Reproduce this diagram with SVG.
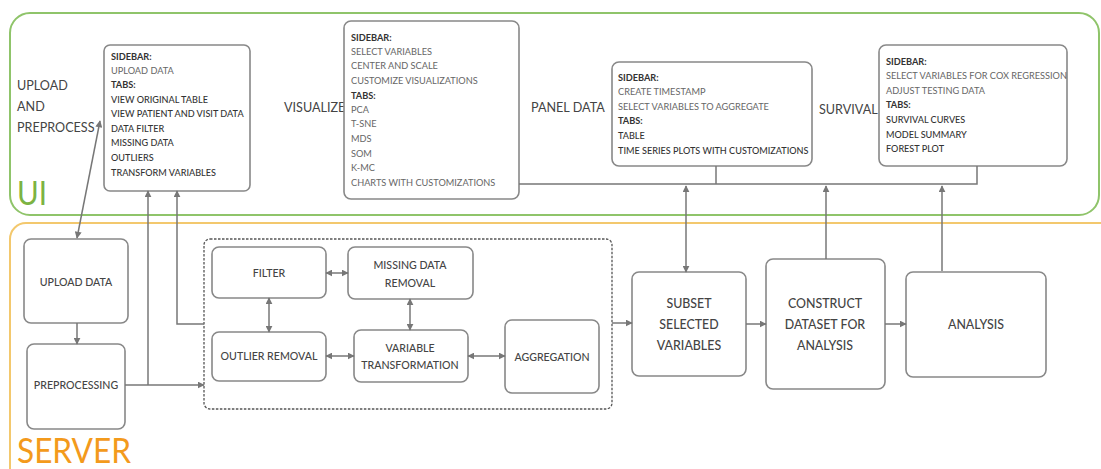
<svg xmlns="http://www.w3.org/2000/svg" width="1101" height="469" viewBox="0 0 1101 469">
<defs>
<marker id="ah" viewBox="0 0 10 10" refX="9" refY="5" markerWidth="7" markerHeight="7" markerUnits="userSpaceOnUse" orient="auto-start-reverse">
<path d="M0,0 L10,5 L0,10 z" fill="#777"/>
</marker>
<style>
text{font-family:Lato,"Liberation Sans",sans-serif;fill:#444}
.panel{fill:none;stroke-width:2}
.box{fill:#fff;stroke:#888;stroke-width:1.6}
.con{fill:none;stroke:#777;stroke-width:1.5}
.ar{marker-end:url(#ah)}
.bi{marker-start:url(#ah);marker-end:url(#ah)}
.hd{font-size:9.2px;font-weight:bold;fill:#333}
.it{font-size:9.2px;fill:#666}
.tb{font-size:9.1px;fill:#333;font-weight:500}
.sec{font-size:12.6px;fill:#444}
.bl{font-size:10.6px;fill:#444;font-weight:500;text-anchor:middle}
.bb{font-size:12.4px;fill:#444;font-weight:500;text-anchor:middle}
</style>
</defs>
<rect width="1101" height="469" fill="#fff"/>
<g id="ui-panel">
<rect class="panel" x="10" y="13" width="1089" height="202" rx="20" stroke="#8fc46a"/>
<text x="17" y="205" textLength="30" lengthAdjust="spacingAndGlyphs" style="font-size:32px;fill:#7cb342">UI</text>
</g>
<g id="server-panel">
<rect class="panel" x="10" y="223" width="1110" height="270" rx="16" stroke="#f3c86d"/>
<text x="17" y="463" textLength="114" lengthAdjust="spacingAndGlyphs" style="font-size:35px;fill:#f39a1c">SERVER</text>
</g>
<g id="labels">
<text class="sec" x="17" y="90">UPLOAD</text>
<text class="sec" x="17" y="111">AND</text>
<text class="sec" x="17" y="132">PREPROCESS</text>
<text class="sec" x="284" y="112">VISUALIZE</text>
<text class="sec" x="531" y="112">PANEL DATA</text>
<text class="sec" x="819" y="114">SURVIVAL</text>
</g>
<g id="upload-ui">
<rect class="box" x="104" y="45" width="146" height="146" rx="6"/>
<text class="hd" x="111" y="60">SIDEBAR:</text>
<text class="it" x="111" y="74">UPLOAD DATA</text>
<text class="hd" x="111" y="88">TABS:</text>
<text class="tb" x="111" y="103">VIEW ORIGINAL TABLE</text>
<text class="tb" x="111" y="117">VIEW PATIENT  AND VISIT DATA</text>
<text class="tb" x="111" y="132">DATA  FILTER</text>
<text class="tb" x="111" y="146">MISSING DATA</text>
<text class="tb" x="111" y="161">OUTLIERS</text>
<text class="tb" x="111" y="176">TRANSFORM VARIABLES</text>
</g>
<g id="visualize-ui">
<rect class="box" x="344" y="21" width="175" height="178" rx="7"/>
<text class="hd" x="351" y="41">SIDEBAR:</text>
<text class="it" x="351" y="55">SELECT VARIABLES</text>
<text class="it" x="351" y="69">CENTER AND SCALE</text>
<text class="it" x="351" y="84">CUSTOMIZE VISUALIZATIONS</text>
<text class="hd" x="351" y="99">TABS:</text>
<text class="it" x="351" y="113">PCA</text>
<text class="it" x="351" y="127">T-SNE</text>
<text class="it" x="351" y="142">MDS</text>
<text class="it" x="351" y="157">SOM</text>
<text class="it" x="351" y="171">K-MC</text>
<text class="it" x="351" y="186">CHARTS WITH CUSTOMIZATIONS</text>
</g>
<g id="panel-ui">
<rect class="box" x="612" y="62" width="200" height="104" rx="7"/>
<text class="hd" x="618" y="81">SIDEBAR:</text>
<text class="it" x="618" y="95">CREATE TIMESTAMP</text>
<text class="it" x="618" y="110">SELECT VARIABLES TO AGGREGATE</text>
<text class="hd" x="618" y="124">TABS:</text>
<text class="tb" x="618" y="139">TABLE</text>
<text class="tb" x="618" y="154">TIME SERIES PLOTS WITH CUSTOMIZATIONS</text>
</g>
<g id="survival-ui">
<rect class="box" x="879" y="45" width="188" height="121" rx="7"/>
<text class="hd" x="886" y="65">SIDEBAR:</text>
<text class="it" x="886" y="79">SELECT VARIABLES FOR COX REGRESSION</text>
<text class="it" x="886" y="94">ADJUST TESTING DATA</text>
<text class="hd" x="886" y="108">TABS:</text>
<text class="tb" x="886" y="123">SURVIVAL CURVES</text>
<text class="tb" x="886" y="138">MODEL SUMMARY</text>
<text class="tb" x="886" y="152">FOREST PLOT</text>
</g>
<g id="upload-data">
<rect class="box" x="24" y="239" width="104" height="84" rx="7"/>
<text class="bl" x="76" y="286">UPLOAD DATA</text>
</g>
<g id="preprocessing">
<rect class="box" x="27" y="344" width="98" height="85" rx="7"/>
<text class="bl" x="76" y="389">PREPROCESSING</text>
</g>
<g id="preprocess-group">
<rect x="204" y="239" width="408" height="170" rx="6" fill="none" stroke="#555" stroke-width="1.3" stroke-dasharray="2.5,1.5"/>
</g>
<g id="filter">
<rect class="box" x="212" y="247" width="114" height="51" rx="7"/>
<text class="bl" x="269" y="277">FILTER</text>
</g>
<g id="missing-data-removal">
<rect class="box" x="348" y="247" width="125" height="52" rx="7"/>
<text class="bl" x="410" y="269">MISSING DATA</text>
<text class="bl" x="410" y="287">REMOVAL</text>
</g>
<g id="outlier-removal">
<rect class="box" x="212" y="332" width="114" height="49" rx="7"/>
<text class="bl" x="269" y="360">OUTLIER REMOVAL</text>
</g>
<g id="variable-transformation">
<rect class="box" x="354" y="330" width="114" height="52" rx="7"/>
<text class="bl" x="410" y="352">VARIABLE</text>
<text class="bl" x="410" y="369">TRANSFORMATION</text>
</g>
<g id="aggregation">
<rect class="box" x="505" y="320" width="94" height="73" rx="7"/>
<text class="bl" x="552" y="361">AGGREGATION</text>
</g>
<g id="subset">
<rect class="box" x="632" y="272" width="114" height="104" rx="7"/>
<text class="bb" x="689" y="308">SUBSET</text>
<text class="bb" x="689" y="329">SELECTED</text>
<text class="bb" x="689" y="350">VARIABLES</text>
</g>
<g id="construct">
<rect class="box" x="766" y="259" width="119" height="130" rx="7"/>
<text class="bb" x="825" y="308">CONSTRUCT</text>
<text class="bb" x="825" y="329">DATASET FOR</text>
<text class="bb" x="825" y="350">ANALYSIS</text>
</g>
<g id="analysis">
<rect class="box" x="906" y="272" width="140" height="105" rx="7"/>
<text class="bb" x="976" y="329">ANALYSIS</text>
</g>
<g id="connectors">
<path class="con bi" d="M100,121 L77,238"/>
<path class="con ar" d="M77,323 V344"/>
<path class="con ar" d="M125,385 H204"/>
<path class="con ar" d="M148,385 V191"/>
<path class="con ar" d="M204,324 H177 V191"/>
<path class="con bi" d="M326,273 H348"/>
<path class="con bi" d="M269,298 V332"/>
<path class="con bi" d="M326,356 H354"/>
<path class="con bi" d="M410,299 V330"/>
<path class="con bi" d="M468,356 H505"/>
<path class="con ar" d="M612,323 H632"/>
<path class="con ar" d="M746,324 H766"/>
<path class="con ar" d="M885,324 H906"/>
<path class="con" d="M519,184 H977 V166"/>
<path class="con" d="M716,166 V184"/>
<path class="con bi" d="M686,186 V272"/>
<path class="con ar" d="M826,259 V186"/>
<path class="con ar" d="M942,271 V186"/>
</g>
</svg>
